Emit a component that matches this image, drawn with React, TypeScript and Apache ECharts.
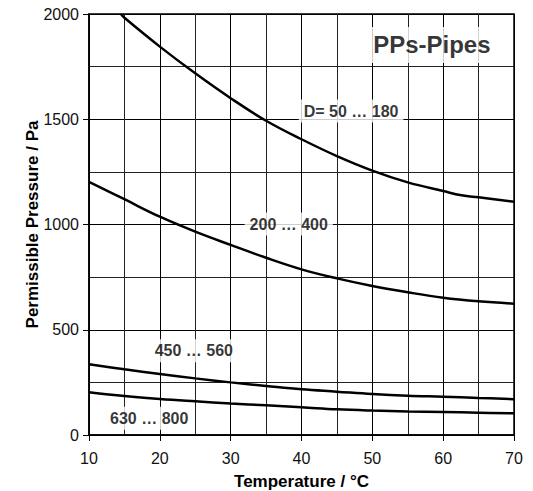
import React, { useEffect, useRef } from "react";
import * as echarts from "echarts";

const temps = [10, 15, 20, 25, 30, 35, 40, 45, 50, 55, 60, 65, 70];
const curve1Temps = [14.5, 15, 20, 25, 30, 35, 40, 45, 50, 55, 60, 62.6, 65, 70];
const curve1Values = [2000, 1982, 1845, 1718, 1600, 1493, 1405, 1325, 1256, 1200, 1159, 1139, 1129, 1108];
const curve2Values = [1203, 1120, 1037, 966, 903, 842, 787, 744, 708, 678, 652, 635, 624];
const curve3Values = [336, 312, 290, 269, 250, 233, 217, 206, 195, 187, 182, 176, 170];
const curve4Values = [203, 185, 171, 160, 150, 141, 132, 122, 116, 112, 109, 106, 103];

const curveLabels = ["D= 50 … 180", "200 … 400", "450 … 560", "630 … 800"];
const curveLabelT = [47, 38.2, 24.8, 18.5];
const curveLabelP = [1539, 1002, 400, 79];
const titleText = "PPs-Pipes";
const titleT = 58.4;
const titleP = 1853;

const FONT = "'Liberation Sans', Arial, sans-serif";

export default function App() {
  const ref = useRef<HTMLDivElement>(null);
  useEffect(() => {
    if (!ref.current) return;
    const chart = echarts.init(ref.current, null, { renderer: "svg" });
    const lineStyle = { color: "#000", width: 2.5 };
    const mk = (vals: number[], ts: number[]) => vals.map((v, i) => [ts[i], v]);
    chart.setOption({
      animation: false,
      grid: {
        left: 89,
        right: 19,
        top: 14,
        bottom: 56,
        show: true,
        borderColor: "#000",
        borderWidth: 1.5,
        backgroundColor: "transparent",
        containLabel: false,
        outerBoundsMode: "none",
      },
      xAxis: {
        type: "value",
        min: 10,
        max: 70,
        interval: 10,
        name: "Temperature / °C",
        nameLocation: "middle",
        nameGap: 38,
        nameMoveOverlap: false,
        nameTextStyle: { fontFamily: FONT, fontWeight: "bold", fontSize: 17, color: "#000" },
        axisLine: { show: true, lineStyle: { color: "#000", width: 1.5 } },
        axisTick: { show: true, inside: false, length: 6, lineStyle: { color: "#000" } },
        axisLabel: { fontFamily: FONT, fontSize: 16, color: "#111", margin: 15 },
        splitLine: { show: true, lineStyle: { color: "#000", width: 1 } },
        minorTick: { show: false, splitNumber: 2 },
        minorSplitLine: { show: true, lineStyle: { color: "#222", width: 1 } },
      },
      yAxis: {
        type: "value",
        min: 0,
        max: 2000,
        interval: 500,
        name: "Permissible Pressure / Pa",
        nameLocation: "middle",
        nameGap: 48,
        nameMoveOverlap: false,
        nameTextStyle: { fontFamily: FONT, fontWeight: "bold", fontSize: 17, color: "#000" },
        axisLine: { show: true, lineStyle: { color: "#000", width: 1.5 } },
        axisTick: { show: true, inside: false, length: 6, lineStyle: { color: "#000" } },
        axisLabel: {
          fontFamily: FONT,
          fontSize: 16,
          color: "#111",
          margin: 10,
          formatter: (v: number) => String(v),
        },
        splitLine: { show: true, lineStyle: { color: "#000", width: 1 } },
        minorTick: { show: false, splitNumber: 2 },
        minorSplitLine: { show: true, lineStyle: { color: "#222", width: 1 } },
      },
      series: [
        { type: "line", data: mk(curve1Values, curve1Temps), symbol: "none", smooth: 0.4, lineStyle, silent: true },
        { type: "line", data: mk(curve2Values, temps), symbol: "none", smooth: 0.4, lineStyle, silent: true },
        { type: "line", data: mk(curve3Values, temps), symbol: "none", smooth: 0.4, lineStyle, silent: true },
        { type: "line", data: mk(curve4Values, temps), symbol: "none", smooth: 0.4, lineStyle, silent: true },
        {
          type: "scatter",
          symbolSize: 0,
          silent: true,
          z: 5,
          data: curveLabels.map((t, i) => ({ value: [curveLabelT[i], curveLabelP[i]], name: t })),
          label: {
            show: true,
            position: "inside",
            formatter: (p: any) => p.name,
            fontFamily: FONT,
            fontWeight: "bold",
            fontSize: 16,
            color: "#000",
            backgroundColor: "#fff",
            padding: [4, 5, 3, 5],
          },
        },
        {
          type: "scatter",
          symbolSize: 0,
          silent: true,
          z: 5,
          data: [{ value: [titleT, titleP], name: titleText }],
          label: {
            show: true,
            position: "inside",
            formatter: (p: any) => p.name,
            fontFamily: FONT,
            fontWeight: "bold",
            fontSize: 24,
            color: "#000",
            backgroundColor: "#fff",
            padding: [7, 6, 5, 6],
          },
        },
      ],
    });
    return () => chart.dispose();
  }, []);
  return (
    <div
      ref={ref}
      style={{ position: "fixed", left: 0, top: 0, width: 533, height: 491, background: "#fff" }}
    />
  );
}
